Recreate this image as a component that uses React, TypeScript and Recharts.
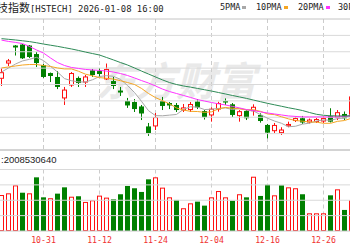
import React from 'react';
import { Bar, CartesianGrid, ComposedChart, Line, ReferenceLine, XAxis, YAxis } from 'recharts';

// HSTECH daily candles, oldest first (last one is cut off at the right edge)
const OPEN = [
  6038, 6131, 6238, 6244, 6238, 6186, 6119, 6070, 6046, 5918,
  5997, 6040, 6015, 6086, 6082, 6034, 6021, 5963, 5899, 5893,
  5866, 5744, 5747, 5899, 5887, 5875, 5844, 5847, 5896, 5838,
  5814, 5850, 5899, 5879, 5810, 5838, 5840, 5814, 5753, 5718,
  5706, 5748, 5780, 5794, 5771, 5774, 5777, 5808, 5800, 5820, 5808,
];
const CLOSE = [
  6072, 6144, 6226, 6160, 6168, 6131, 6046, 6052, 5985, 5966,
  6067, 6009, 6046, 6058, 6064, 6092, 5991, 5951, 5872, 5850,
  5823, 5704, 5798, 5869, 5872, 5844, 5857, 5878, 5860, 5800,
  5849, 5884, 5890, 5814, 5834, 5794, 5861, 5777, 5706, 5750,
  5722, 5756, 5792, 5768, 5783, 5786, 5792, 5773, 5828, 5794, 5924,
];
const HIGH = [
  6099, 6156, 6241, 6247, 6241, 6198, 6125, 6073, 6082, 5985,
  6076, 6049, 6058, 6095, 6101, 6128, 6046, 5985, 5918, 5911,
  5875, 5765, 5826, 5924, 5893, 5887, 5881, 5893, 5911, 5844,
  5861, 5895, 5915, 5887, 5844, 5844, 5879, 5824, 5759, 5765,
  5739, 5773, 5805, 5808, 5792, 5795, 5805, 5855, 5844, 5835, 5930,
];
const LOW = [
  5991, 6113, 6177, 6156, 6162, 6107, 6040, 6015, 5972, 5875,
  5985, 5985, 5985, 6046, 6046, 6028, 5972, 5930, 5857, 5832,
  5783, 5686, 5722, 5844, 5850, 5832, 5832, 5832, 5850, 5786,
  5773, 5834, 5875, 5802, 5773, 5783, 5810, 5767, 5671, 5704,
  5692, 5739, 5771, 5759, 5762, 5765, 5765, 5768, 5783, 5783, 5802,
];
const PREV_CLOSE = 6050;

// volume, 亿
const VOLUME = [
  23.4, 24.5, 29.7, 24.9, 24.5, 34.9, 21.9, 21.3, 24.3, 28.4,
  22.3, 22.6, 18.9, 20.0, 23.0, 21.7, 20.6, 23.9, 29.3, 27.8,
  25.4, 33.6, 34.9, 28.2, 21.9, 20.2, 14.8, 18.0, 19.1, 16.5,
  21.9, 26.0, 21.9, 19.7, 23.9, 21.9, 35.3, 22.8, 30.1, 23.2,
  29.7, 28.4, 27.8, 23.9, 11.5, 11.5, 11.5, 23.2, 27.1, 13.7, 20.085,
];

const MA5 = [
  6076, 6101, 6125, 6144, 6154, 6166, 6146, 6111, 6076, 6036,
  6023, 6016, 6015, 6029, 6049, 6054, 6050, 6031, 5994, 5951,
  5897, 5840, 5810, 5809, 5813, 5817, 5848, 5864, 5862, 5847,
  5849, 5854, 5857, 5847, 5854, 5843, 5838, 5816, 5794, 5777,
  5763, 5742, 5745, 5758, 5764, 5777, 5784, 5781, 5792, 5795, 5822,
];
const MA10 = [
  6101, 6107, 6113, 6119, 6122, 6122, 6116, 6110, 6101, 6095,
  6095, 6081, 6063, 6053, 6042, 6038, 6033, 6023, 6012, 6000,
  5976, 5945, 5920, 5901, 5882, 5857, 5844, 5836, 5835, 5830,
  5833, 5851, 5860, 5855, 5851, 5846, 5846, 5836, 5820, 5816,
  5803, 5790, 5780, 5776, 5771, 5770, 5763, 5763, 5775, 5780, 5794,
];
const MA20 = [
  6271, 6263, 6257, 6250, 6232, 6211, 6192, 6162, 6134, 6116,
  6104, 6098, 6092, 6089, 6086, 6082, 6076, 6067, 6055, 6040,
  6024, 6009, 5991, 5972, 5957, 5945, 5933, 5921, 5908, 5899,
  5890, 5882, 5875, 5866, 5857, 5847, 5841, 5833, 5826, 5820,
  5814, 5808, 5805, 5802, 5802, 5802, 5802, 5802, 5802, 5805, 5808,
];
const MA30 = [
  6280, 6276, 6272, 6267, 6262, 6255, 6247, 6240, 6233, 6225,
  6217, 6208, 6198, 6189, 6180, 6165, 6150, 6134, 6119, 6101,
  6082, 6064, 6046, 6028, 6012, 6000, 5991, 5984, 5976, 5968,
  5960, 5951, 5942, 5933, 5924, 5915, 5905, 5895, 5885, 5876,
  5867, 5858, 5850, 5841, 5829, 5818, 5812, 5809, 5808, 5808, 5808,
];

const TICK_IDX = [6, 14, 22, 30, 38, 46];
const TICK_LABELS = ['10-31', '11-12', '11-24', '12-04', '12-16', '12-26'];
const PRICE_TICKS = [5600, 5700, 5800, 5900, 6000, 6100, 6200, 6300, 6400];
const VOL_TICKS = [0, 10, 20, 30, 40];

const RED = '#ff1010';
const GREEN = '#008000';
const MA_COLORS = { ma5: '#a8a8a8', ma10: '#f5a623', ma20: '#ff33ff', ma30: '#2e8b57' };
const LEGEND = [
  { label: '5PMA', key: 'ma5', left: 220 },
  { label: '10PMA', key: 'ma10', left: 256 },
  { label: '20PMA', key: 'ma20', left: 298 },
  { label: '30PMA', key: 'ma30', left: 338 },
];

// 7px per candle, first candle centred 1.5px in from the left edge
const X_MIN = -1.5 / 7;
const X_MAX = X_MIN + 350 / 7;

const data = CLOSE.map((c, i) => ({
  i,
  o: OPEN[i],
  c,
  h: HIGH[i],
  l: LOW[i],
  v: VOLUME[i],
  up: c >= (i === 0 ? PREV_CLOSE : CLOSE[i - 1]),
  ma5: MA5[i],
  ma10: MA10[i],
  ma20: MA20[i],
  ma30: MA30[i],
}));

const MONO = '"DejaVu Sans Mono", "Noto Sans CJK SC", monospace';
const GRID = '#d9d9d9';

function Candle(props: any) {
  const { x, y, width, height, payload } = props;
  if (x == null || !payload) return null;
  const top = Math.min(y, y + height);
  const span = Math.abs(height);
  const { o, c, h, l } = payload;
  const py = (v: number) => top + ((h - v) / (h - l || 1)) * span;
  const cx = Math.round(x + width / 2 - 0.5) + 0.5;
  const rising = c > o;
  const color = rising ? RED : GREEN;
  const bTop = py(Math.max(o, c));
  const bBot = py(Math.min(o, c));
  return (
    <g>
      <line x1={cx} x2={cx} y1={top} y2={top + span} stroke={color} strokeWidth={1} />
      {rising ? (
        <rect x={cx - 2} y={bTop} width={4} height={Math.max(bBot - bTop, 1)} fill="#fff" stroke={color} strokeWidth={1} />
      ) : (
        <rect x={cx - 2.5} y={bTop} width={5} height={Math.max(bBot - bTop, 1)} fill={color} />
      )}
    </g>
  );
}

function VolBar(props: any) {
  const { x, y, width, height, payload } = props;
  if (x == null || !payload) return null;
  const top = Math.min(y, y + height);
  const span = Math.abs(height);
  const cx = Math.round(x + width / 2 - 0.5) + 0.5;
  if (payload.up) {
    return <rect x={cx - 2} y={top + 0.5} width={4} height={Math.max(span - 1, 0)} fill="#fff" stroke={RED} strokeWidth={1} />;
  }
  return <rect x={cx - 2.5} y={top} width={5} height={span} fill={GREEN} />;
}

export default function App() {
  return (
    <div
      style={{
        position: 'absolute',
        left: 0,
        top: 0,
        width: 350,
        height: 250,
        overflow: 'hidden',
        background: '#fff',
      }}
    >
      {/* watermark */}
      <div
        style={{
          position: 'absolute',
          left: 96,
          top: 55,
          fontSize: 40,
          fontWeight: 700,
          fontStyle: 'italic',
          lineHeight: '48px',
          color: '#e9e9e9',
          fontFamily: '"Noto Sans CJK SC"',
          whiteSpace: 'nowrap',
        }}
      >
        东方财富
      </div>

      <div style={{ position: 'absolute', left: 0, top: 0 }}>
        <ComposedChart width={350} height={151} data={data} margin={{ top: 19, right: 0, bottom: 1, left: 0 }}>
          <CartesianGrid horizontal={false} stroke="#cccccc" strokeDasharray="4 3" verticalValues={TICK_IDX} />
          <XAxis dataKey="i" type="number" domain={[X_MIN, X_MAX]} allowDataOverflow hide padding={{ left: 0, right: 0 }} />
          <YAxis type="number" domain={[5600, 6400]} ticks={PRICE_TICKS} allowDataOverflow hide />
          {PRICE_TICKS.map((t) => (
            <ReferenceLine
              key={t}
              y={t}
              stroke={t === 5600 ? '#a8a8a8' : t === 6400 ? '#c4c4c4' : GRID}
            />
          ))}
          <Bar
            dataKey={(d: any) => [d.l, d.h]}
            barSize={5}
            shape={(p: any) => <Candle {...p} />}
            isAnimationActive={false}
          />
          {(['ma5', 'ma10', 'ma20', 'ma30'] as const).map((k) => (
            <Line
              key={k}
              dataKey={k}
              type="linear"
              stroke={MA_COLORS[k]}
              strokeWidth={1}
              dot={false}
              activeDot={false}
              isAnimationActive={false}
            />
          ))}
        </ComposedChart>
      </div>

      <div style={{ position: 'absolute', left: 0, top: 160 }}>
        <ComposedChart width={350} height={90} data={data} margin={{ top: 9.5, right: 0, bottom: 0, left: 0 }}>
          <CartesianGrid horizontal={false} stroke="#cccccc" strokeDasharray="4 3" verticalValues={TICK_IDX} />
          <XAxis
            dataKey="i"
            type="number"
            domain={[X_MIN, X_MAX]}
            allowDataOverflow
            padding={{ left: 0, right: 0 }}
            ticks={TICK_IDX}
            interval={0}
            tickFormatter={(v: number) => TICK_LABELS[TICK_IDX.indexOf(v)] ?? ''}
            tickLine={false}
            tickSize={0}
            tickMargin={6}
            height={19}
            axisLine={{ stroke: '#c8c8c8' }}
            tick={{ fill: '#f03030', fontSize: 8.2, fontFamily: MONO }}
          />
          <YAxis type="number" domain={[0, 40]} ticks={VOL_TICKS} allowDataOverflow hide />
          {VOL_TICKS.filter((t) => t > 0).map((t) => (
            <ReferenceLine key={t} y={t} stroke={GRID} />
          ))}
          <Bar dataKey="v" barSize={5} shape={(p: any) => <VolBar {...p} />} isAnimationActive={false} />
        </ComposedChart>
      </div>

      {/* header */}
      <div
        style={{
          position: 'absolute',
          left: -3,
          top: 1,
          fontSize: 8.9,
          lineHeight: '13px',
          fontFamily: MONO,
          color: '#222',
          whiteSpace: 'pre',
        }}
      >
        <span style={{ fontSize: 11, fontFamily: '"Noto Sans CJK SC"' }}>技指数</span>
        [HSTECH] 2026-01-08 16:00
      </div>

      {LEGEND.map((item) => (
        <div
          key={item.key}
          style={{
            position: 'absolute',
            left: item.left,
            top: 2,
            fontSize: 8.5,
            lineHeight: '11px',
            fontFamily: MONO,
            color: '#222',
            whiteSpace: 'nowrap',
            display: 'flex',
            alignItems: 'center',
          }}
        >
          <span>{item.label}</span>
          <span
            style={{
              display: 'inline-block',
              width: 4,
              height: 3,
              marginLeft: 2,
              background: MA_COLORS[item.key as keyof typeof MA_COLORS],
            }}
          />
        </div>
      ))}

      <div
        style={{
          position: 'absolute',
          left: 1,
          top: 154,
          fontSize: 9.5,
          lineHeight: '11px',
          fontFamily: '"Liberation Sans", Arial, sans-serif',
          color: '#222',
          whiteSpace: 'nowrap',
        }}
      >
        :2008530640
      </div>
    </div>
  );
}
